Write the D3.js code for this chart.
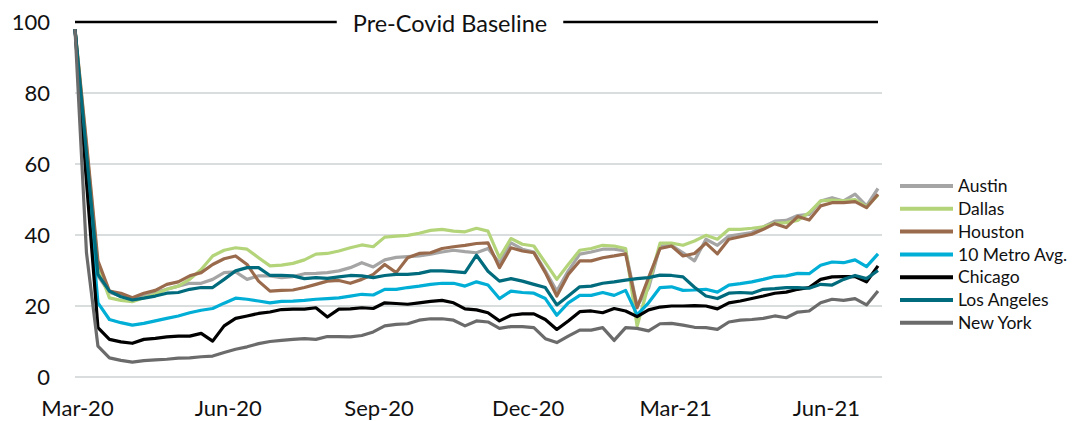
<!DOCTYPE html>
<html>
<head>
<meta charset="utf-8">
<script src="https://cdn.jsdelivr.net/npm/d3@7"></script>
<style>
  body { margin: 0; background: #fff; }
  svg text { font-family: Lato, "Open Sans", sans-serif; fill: #111; }
</style>
</head>
<body>
<div id="chart"></div>
<script>
// Weekly observations, first week starting 1 Mar 2020 (index = week number)
var startDate = new Date(2020, 2, 1);

var cities = ["Austin", "Dallas", "Houston", "10 Metro Avg.", "Chicago", "Los Angeles", "New York"];
var colors = ["#a5a5a5", "#b4d47a", "#9a6a4c", "#00aed6", "#000000", "#006b7c", "#6b6b6b"];

var austin = [98, 62, 28.5, 23.8, 22.8, 22.1, 22.8, 23.8, 24.7, 25.6, 26.4, 26.4, 27.5, 29.4, 29.6, 27.5, 28.5, 28.5, 28.0,
  28.3, 29.1, 29.2, 29.4, 29.9, 30.8, 32.2, 31.0, 33.0, 33.7, 33.9, 34.1, 34.6, 35.2, 35.7, 35.3, 35.0, 36.2,
  32.2, 37.8, 36.0, 35.2, 29.9, 24.2, 29.9, 34.6, 35.2, 36.0, 36.0, 35.5, 20.0, 25.0, 36.9, 37.1, 35.0, 32.7,
  38.8, 37.1, 39.7, 40.2, 40.7, 42.3, 43.9, 44.1, 45.5, 45.8, 49.6, 50.5, 49.6, 51.5, 48.2, 53.1];

var dallas = [98, 65, 31.0, 22.3, 21.6, 21.2, 22.3, 23.3, 24.7, 25.6, 27.5, 30.3, 34.1, 35.7, 36.4, 36.0, 33.6, 31.3, 31.5,
  32.0, 33.0, 34.6, 34.8, 35.5, 36.4, 37.2, 36.7, 39.4, 39.7, 39.9, 40.5, 41.3, 41.6, 41.1, 40.9, 41.9, 41.1,
  33.6, 39.0, 37.4, 36.9, 32.2, 27.5, 31.7, 35.7, 36.2, 37.1, 36.9, 36.2, 14.3, 26.0, 37.7, 37.7, 37.1, 38.3,
  39.9, 38.8, 41.6, 41.6, 41.9, 42.3, 43.3, 43.5, 44.1, 46.3, 49.6, 49.8, 49.6, 50.0, 47.9, 51.2];

var houston = [98, 66, 32.7, 24.2, 23.6, 22.3, 23.6, 24.4, 26.1, 26.8, 28.5, 29.4, 31.7, 33.3, 34.1, 31.7, 27.0, 24.2, 24.4,
  24.5, 25.2, 26.1, 27.0, 27.2, 26.4, 27.5, 28.9, 31.7, 29.4, 33.6, 34.8, 35.0, 36.2, 36.7, 37.1, 37.6, 37.8,
  30.8, 36.4, 35.5, 35.0, 29.4, 22.8, 28.9, 32.7, 32.7, 33.6, 34.1, 34.7, 19.5, 28.0, 36.2, 36.9, 34.1, 34.8,
  37.7, 34.7, 38.8, 39.5, 40.2, 41.6, 43.2, 42.1, 45.2, 44.2, 48.2, 49.1, 49.1, 49.4, 47.7, 51.5];

var metroAvg = [98, 58, 20.9, 16.2, 15.3, 14.6, 15.1, 15.8, 16.5, 17.2, 18.1, 18.8, 19.3, 20.8, 22.2, 21.9, 21.4, 20.9, 21.3,
  21.4, 21.6, 21.9, 22.1, 22.3, 22.8, 23.3, 23.1, 24.7, 24.7, 25.2, 25.6, 26.1, 26.4, 26.4, 25.6, 26.8, 25.9,
  22.1, 24.2, 23.8, 23.6, 22.1, 17.4, 20.9, 23.0, 23.0, 23.8, 23.0, 24.4, 17.5, 20.9, 25.2, 25.4, 24.4, 24.5,
  24.7, 23.9, 25.9, 26.3, 26.8, 27.5, 28.3, 28.5, 29.2, 29.1, 31.5, 32.4, 32.2, 33.0, 31.1, 34.7];

var chicago = [98, 55, 13.9, 10.6, 9.9, 9.5, 10.6, 10.9, 11.3, 11.5, 11.5, 12.3, 10.1, 14.4, 16.5, 17.2, 17.9, 18.3, 19.0,
  19.1, 19.1, 19.5, 16.9, 19.1, 19.2, 19.5, 19.3, 20.9, 20.7, 20.5, 20.9, 21.3, 21.6, 20.9, 19.2, 18.9, 18.1,
  15.8, 17.4, 17.8, 17.8, 16.2, 13.4, 15.8, 18.4, 18.6, 18.1, 19.3, 18.6, 17.0, 18.9, 19.7, 20.0, 20.0, 20.1,
  20.0, 19.2, 20.9, 21.4, 22.1, 22.8, 23.6, 23.9, 24.7, 25.2, 27.5, 28.2, 28.3, 28.3, 26.8, 31.3];

var losAngeles = [98, 63, 28.9, 24.2, 22.6, 21.7, 22.2, 22.8, 23.6, 23.8, 24.7, 25.2, 25.2, 27.5, 29.9, 30.8, 30.8, 28.6, 28.6,
  28.5, 27.7, 28.0, 27.8, 28.2, 28.6, 28.5, 28.0, 28.6, 28.9, 28.9, 29.2, 29.9, 29.9, 29.7, 29.4, 34.3, 29.8,
  27.0, 27.7, 27.0, 26.1, 25.2, 20.3, 22.8, 25.4, 25.6, 26.4, 26.8, 27.3, 27.7, 28.0, 28.7, 28.6, 28.2, 25.3,
  22.8, 22.1, 23.6, 23.8, 23.6, 24.7, 24.9, 25.2, 25.2, 25.0, 26.1, 25.9, 27.5, 28.6, 27.7, 30.0];

var newYork = [98, 35, 8.7, 5.4, 4.7, 4.2, 4.6, 4.8, 5.0, 5.3, 5.4, 5.7, 5.9, 6.9, 7.8, 8.5, 9.4, 10.0, 10.3,
  10.6, 10.8, 10.6, 11.4, 11.4, 11.3, 11.7, 12.7, 14.4, 14.8, 15.0, 16.0, 16.4, 16.4, 16.0, 14.4, 15.8, 15.5,
  13.7, 14.2, 14.2, 13.9, 10.8, 9.7, 11.5, 13.2, 13.2, 13.9, 10.3, 13.9, 13.7, 13.0, 15.0, 15.1, 14.6, 14.0,
  13.9, 13.4, 15.5, 16.0, 16.2, 16.5, 17.2, 16.7, 18.3, 18.6, 20.9, 21.9, 21.6, 22.1, 20.3, 24.2];

var seriesValues = [austin, dallas, houston, metroAvg, chicago, losAngeles, newYork];
var yTicks = [0, 20, 40, 60, 80, 100];
var xTicks = [new Date(2020, 2, 1), new Date(2020, 5, 1), new Date(2020, 8, 1),
              new Date(2020, 11, 1), new Date(2021, 2, 1), new Date(2021, 5, 1)];
var titleText = "Pre-Covid Baseline";

(function() {
  var width = 1073, height = 421;
  var margin = { top: 22, right: 193, bottom: 44, left: 75 };

  var svg = d3.select("#chart").append("svg")
    .attr("width", width)
    .attr("height", height);

  var weeks = austin.map(function(d, i) { return d3.timeWeek.offset(startDate, i); });

  var x = d3.scaleTime()
    .domain([startDate, weeks[weeks.length - 1]])
    .range([margin.left, width - margin.right - 2]);

  var y = d3.scaleLinear()
    .domain([0, 100])
    .range([height - margin.bottom, margin.top]);

  var gridRight = width - margin.right + 2;

  // Gridlines
  svg.append("g").attr("class", "grid")
    .selectAll("line")
    .data(yTicks.filter(function(d) { return d < 100; }))
    .enter().append("line")
      .attr("x1", margin.left)
      .attr("x2", gridRight)
      .attr("y1", function(d) { return y(d); })
      .attr("y2", function(d) { return y(d); })
      .attr("stroke", "#d9dddd")
      .attr("stroke-width", 2);

  // Y axis labels
  var yAxis = d3.axisLeft(y).tickValues(yTicks).tickSize(0).tickPadding(0);
  var yg = svg.append("g")
    .attr("transform", "translate(" + 50 + ",0)")
    .call(yAxis);
  yg.select(".domain").remove();
  yg.selectAll("text")
    .style("font-size", "22px")
    .attr("fill", "#111")
    .attr("dy", "0.35em");

  // X axis labels
  var xAxis = d3.axisBottom(x)
    .tickValues(xTicks)
    .tickFormat(d3.timeFormat("%b-%y"))
    .tickSize(0)
    .tickPadding(0);
  var xg = svg.append("g")
    .attr("transform", "translate(2," + (height - 5) + ")")
    .call(xAxis);
  xg.select(".domain").remove();
  xg.selectAll("text")
    .style("font-size", "22px")
    .attr("fill", "#111")
    .attr("dy", "0");

  // Baseline at 100 with title label
  var titleX = 450;
  var title = svg.append("text")
    .attr("x", titleX)
    .attr("y", y(100) + 2)
    .attr("dy", "0.35em")
    .attr("text-anchor", "middle")
    .style("font-size", "23.5px")
    .text(titleText);
  var tw = title.node().getComputedTextLength();

  svg.append("line")
    .attr("x1", margin.left).attr("x2", titleX - tw / 2 - 16)
    .attr("y1", y(100)).attr("y2", y(100))
    .attr("stroke", "#000").attr("stroke-width", 2.5);
  svg.append("line")
    .attr("x1", titleX + tw / 2 + 16).attr("x2", gridRight - 4)
    .attr("y1", y(100)).attr("y2", y(100))
    .attr("stroke", "#000").attr("stroke-width", 2.5);

  // Lines
  var line = d3.line()
    .x(function(d, i) { return x(weeks[i]); })
    .y(function(d) { return y(d); });

  svg.append("g").attr("class", "lines")
    .selectAll("path")
    .data(seriesValues)
    .enter().append("path")
      .attr("d", line)
      .attr("fill", "none")
      .attr("stroke", function(d, i) { return colors[i]; })
      .attr("stroke-width", 3.2)
      .attr("stroke-linejoin", "round");

  // Legend
  var legend = svg.append("g").attr("class", "legend")
    .selectAll("g")
    .data(cities)
    .enter().append("g")
      .attr("transform", function(d, i) { return "translate(900," + (186 + i * 22.8) + ")"; });

  legend.append("line")
    .attr("x1", 0).attr("x2", 53)
    .attr("stroke", function(d, i) { return colors[i]; })
    .attr("stroke-width", 4);

  legend.append("text")
    .attr("x", 58)
    .attr("dy", "0.35em")
    .style("font-size", "17.5px")
    .text(function(d) { return d; });
})();
</script>
</body>
</html>
